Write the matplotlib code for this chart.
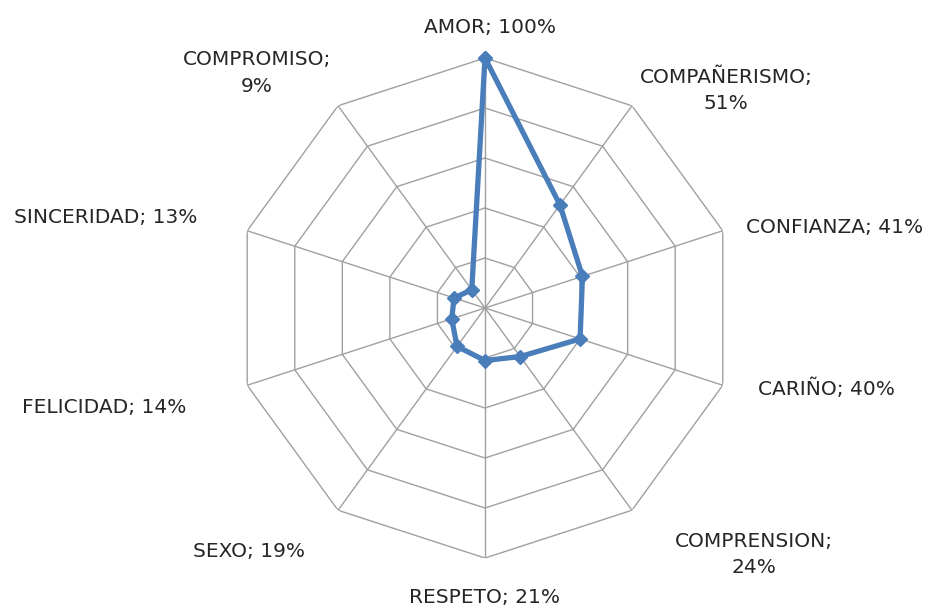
import numpy as np
import matplotlib.pyplot as plt

plt.rcParams["font.family"] = ["DejaVu Sans"]

categories = ["AMOR", "COMPAÑERISMO", "CONFIANZA", "CARIÑO", "COMPRENSION",
              "RESPETO", "SEXO", "FELICIDAD", "SINCERIDAD", "COMPROMISO"]
values = [100, 51, 41, 40, 24, 21, 19, 14, 13, 9]
ring_levels = [20, 40, 60, 80, 100]
# label text layout: line break after the category for some of them
two_line = ["COMPAÑERISMO", "COMPRENSION", "COMPROMISO"]
# label offsets from each spoke tip, in pixels
label_offsets = [(5, 31), (94, 16), (112, 3), (104, -3), (122, -44),
                 (0, -39), (-89, -41), (-143, -22), (-142, 13), (-81, 33)]

line_color = "#4a7ebb"
grid_color = "#a0a0a0"

n = len(categories)
theta = np.arange(n) * 2 * np.pi / n
theta_closed = np.append(theta, theta[0])

fig = plt.figure(figsize=(9.44, 6.08), dpi=100)
ax = fig.add_axes([0.2489, 0.0822, 0.5297, 0.8224], projection="polar")
ax.set_theta_zero_location("N")
ax.set_theta_direction(-1)
ax.set_ylim(0, ring_levels[-1])
ax.grid(False)
ax.set_xticks([])
ax.set_yticks([])
ax.spines["polar"].set_visible(False)

# decagon rings and spokes
for lvl in ring_levels:
    ax.plot(theta_closed, [lvl] * (n + 1), color=grid_color, lw=1.0, zorder=1)
for t in theta:
    ax.plot([t, t], [0, ring_levels[-1]], color=grid_color, lw=1.0, zorder=1)

vals_closed = values + values[:1]
ax.plot(theta_closed, vals_closed, color=line_color, lw=3.8, marker="D",
        markersize=7, zorder=3, clip_on=False)

for t, cat, val, off in zip(theta, categories, values, label_offsets):
    sep = ";\n" if cat in two_line else "; "
    ax.annotate(f"{cat}{sep}{val}%", xy=(t, ring_levels[-1]), xytext=off,
                textcoords="offset pixels", ha="center", va="center",
                fontsize=14.5, color="#262626", linespacing=1.5,
                multialignment="center", annotation_clip=False)

fig.savefig("out.png", dpi=100)
